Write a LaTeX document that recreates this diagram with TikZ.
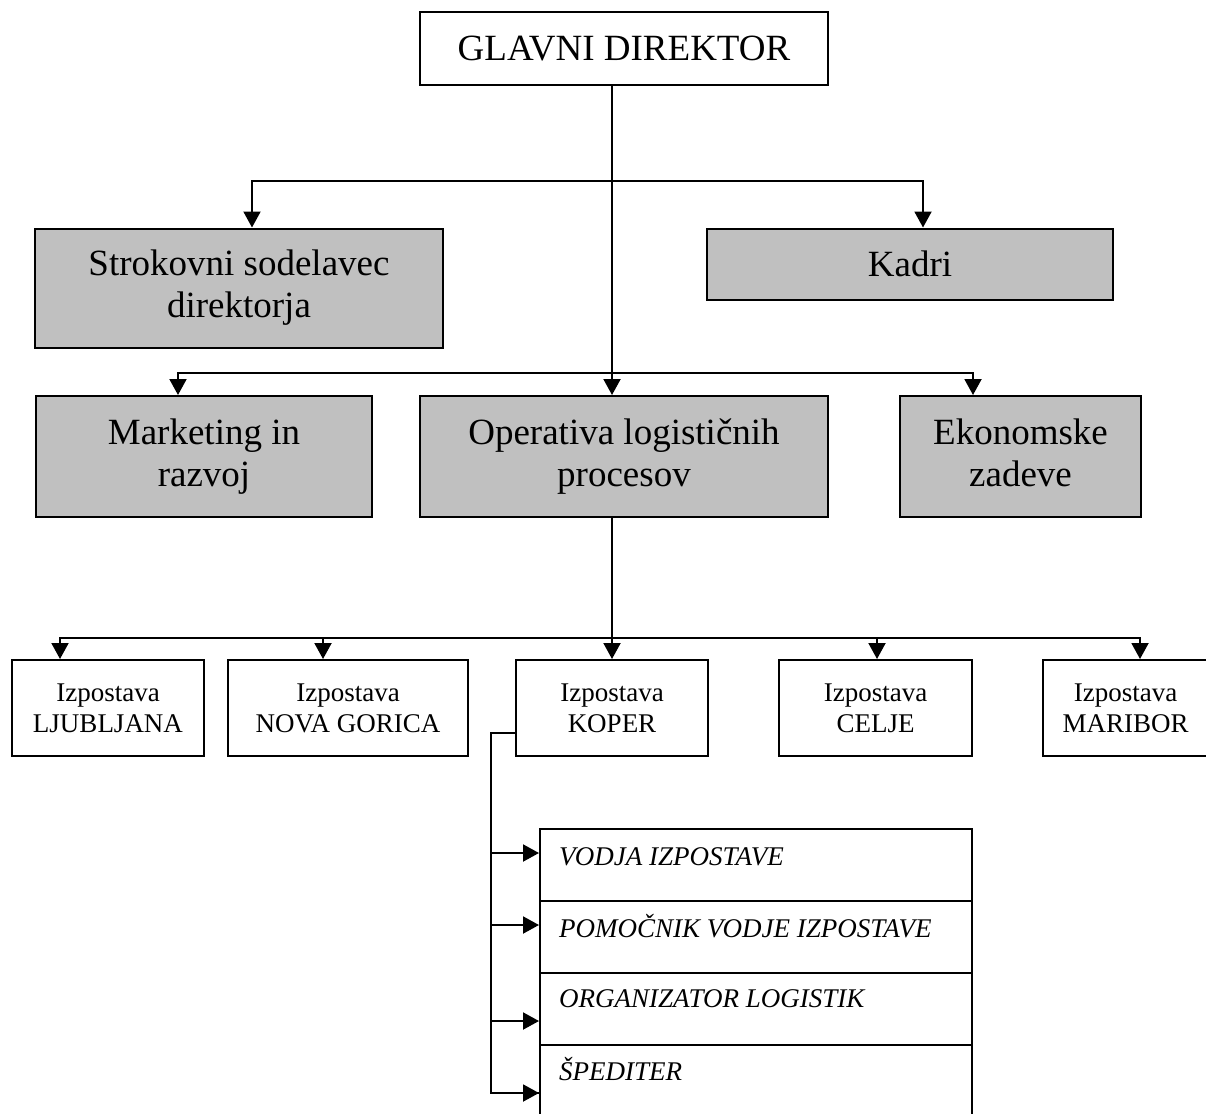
\documentclass[tikz,border=0pt]{standalone}
\usepackage{fontspec}
\setmainfont{Liberation Serif}
\usetikzlibrary{arrows.meta,calc}
\definecolor{boxgray}{HTML}{C0C0C0}
\begin{document}
\begin{tikzpicture}[x=1pt,y=-1pt,
  bigbox/.style={draw=black,line width=2pt,inner sep=0pt,align=center,font=\fontsize{37}{42}\selectfont},
  graybox/.style={bigbox,fill=boxgray},
  branch/.style={draw=black,line width=2pt,inner sep=0pt,align=center,minimum height=96pt,font=\fontsize{27}{31}\selectfont},
  rowbox/.style={draw=black,line width=2pt,inner sep=0pt,minimum width=432pt,minimum height=72pt},
  rowtext/.style={anchor=base west,inner sep=0pt,font=\fontsize{27}{31}\selectfont\itshape},
  link/.style={line width=2pt},
  arr/.style={link,-{Triangle[length=16pt,width=17pt]}}]
\useasboundingbox (0,0) rectangle (1206,1113);
\clip (0,0) rectangle (1206,1113);

% top level
\node[bigbox,minimum width=408pt,minimum height=73pt] (gd) at (624,48.5) {GLAVNI DIREKTOR};
\node[graybox,minimum width=408pt,minimum height=119pt] (sod) at (239,288) {Strokovni sodelavec\\direktorja};
\node[graybox,minimum width=406pt,minimum height=71pt] (kad) at (910,264) {Kadri};
\node[graybox,minimum width=336pt,minimum height=121pt] (mkt) at (204,456.5) {Marketing in\\razvoj};
\node[graybox,minimum width=408pt,minimum height=121pt] (op) at (624,456.5) {Operativa logističnih\\procesov};
\node[graybox,minimum width=241pt,minimum height=121pt] (eko) at (1020.5,456.5) {Ekonomske\\zadeve\vphantom{j}};

% branches
\node[branch,minimum width=192pt] (lju) at (108,708) {Izpostava\\LJUBLJANA};
\node[branch,minimum width=240pt] (ng) at (348,708) {Izpostava\\NOVA GORICA};
\node[branch,minimum width=192pt] (kop) at (612,708) {Izpostava\\KOPER};
\node[branch,minimum width=193pt] (cel) at (875.5,708) {Izpostava\\CELJE};
\node[branch,minimum width=165pt] (mar) at (1125.5,708) {Izpostava\\MARIBOR};

% staff rows
\node[rowbox] (r1) at (756,865) {};
\node[rowbox] (r2) at (756,937) {};
\node[rowbox] (r3) at (756,1009) {};
\node[rowbox] (r4) at (756,1081) {};
\node[rowtext] (t1) at ($(r1.west)+(20,0)$) {VODJA IZPOSTAVE};
\node[rowtext] (t2) at ($(r2.west)+(20,0)$) {POMOČNIK VODJE IZPOSTAVE};
\node[rowtext] (t3) at ($(r3.west)+(20,-2)$) {ORGANIZATOR LOGISTIK};
\node[rowtext] (t4) at ($(r4.west)+(20,-1)$) {ŠPEDITER};

% junction coordinates
\coordinate (j1) at ($(gd.south)+(-12,95)$);
\coordinate (j2) at ($(gd.south)+(-12,287)$);
\coordinate (j3) at ($(op.south)+(-12,120)$);
\coordinate (k0) at ($(kop.west)+(-24,25)$);

% connectors from director
\draw[arr] ($(gd.south)+(-12,0)$) -- ($(op.north)+(-12,0)$);
\draw[arr] (j1) -| ([xshift=13pt]sod.north);
\draw[arr] (j1) -| ([xshift=13pt]kad.north);
\draw[arr] (j2) -| ([xshift=-26pt]mkt.north);
\draw[arr] (j2) -| ([xshift=-47.5pt]eko.north);

% connectors to branches
\draw[arr] ($(op.south)+(-12,0)$) -- (kop.north);
\draw[arr] (j3) -| ([xshift=-48pt]lju.north);
\draw[arr] (j3) -| ([xshift=-25pt]ng.north);
\draw[arr] (j3) -| ([xshift=1.5pt]cel.north);
\draw[arr] (j3) -| ([xshift=14.5pt]mar.north);

% Koper staff
\draw[link] ($(kop.west)+(0,25)$) -- (k0) |- ($(r4.west)+(0,12)$);
\draw[arr] (k0 |- {$(r1.west)+(0,-12)$}) -- ($(r1.west)+(0,-12)$);
\draw[arr] (k0 |- {$(r2.west)+(0,-12)$}) -- ($(r2.west)+(0,-12)$);
\draw[arr] (k0 |- {$(r3.west)+(0,12)$}) -- ($(r3.west)+(0,12)$);
\draw[arr] (k0 |- {$(r4.west)+(0,12)$}) -- ($(r4.west)+(0,12)$);
\end{tikzpicture}
\end{document}
